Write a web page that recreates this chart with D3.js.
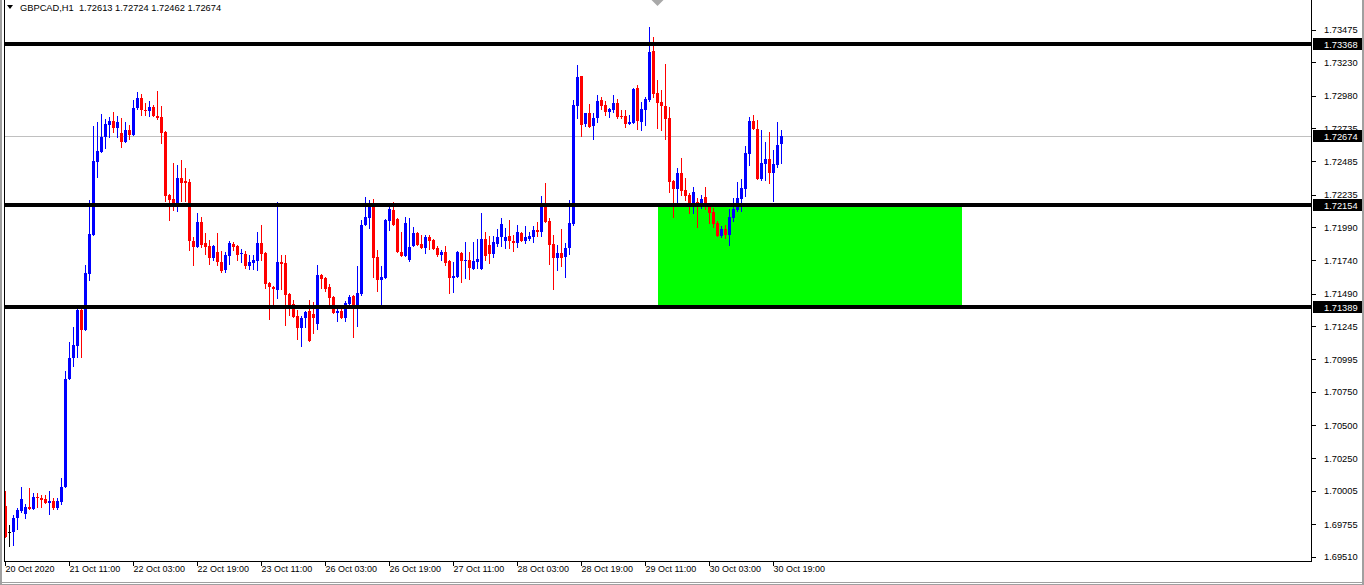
<!DOCTYPE html>
<html><head><meta charset="utf-8">
<script src="https://cdn.jsdelivr.net/npm/d3@7"></script>
<style>body{margin:0;background:#fff;overflow:hidden;} svg{display:block;}</style>
</head><body>
<svg id="c" width="1364" height="585"></svg>
<script>
const titleText = "GBPCAD,H1  1.72613 1.72724 1.72462 1.72674";
const opens = [
1.69892,1.69696,1.69696,1.69802,1.69854,1.69832,1.69884,1.69869,1.69960,1.69952,
1.69945,1.69914,1.69929,1.69877,1.69922,1.70035,1.70847,1.71005,1.71096,1.71367,
1.71216,1.71637,1.71931,1.72480,1.72555,1.72668,1.72759,1.72789,1.72736,1.72698,
1.72631,1.72721,1.72683,1.72886,1.72962,1.72871,1.72864,1.72894,1.72826,1.72819,
1.72706,1.72232,1.72202,1.72164,1.72360,1.72337,1.72330,1.71886,1.71841,1.72029,
1.71871,1.71848,1.71758,1.71803,1.71728,1.71668,1.71773,1.71863,1.71848,1.71788,
1.71788,1.71698,1.71720,1.71735,1.71871,1.71795,1.71570,1.71540,1.71517,1.71728,
1.71720,1.71487,1.71412,1.71321,1.71231,1.71306,1.71359,1.71336,1.71261,1.71630,
1.71607,1.71540,1.71464,1.71344,1.71359,1.71306,1.71412,1.71472,1.71397,1.71487,
1.72006,1.72059,1.72172,1.71765,1.71592,1.71607,1.72036,1.72119,1.72051,1.71803,
1.71773,1.71743,1.71848,1.71946,1.71863,1.71833,1.71916,1.71893,1.71833,1.71780,
1.71803,1.71735,1.71607,1.71615,1.71795,1.71735,1.71743,1.71675,1.71728,1.71675,
1.71901,1.71856,1.71788,1.71863,1.71916,1.71886,1.71923,1.71886,1.71871,1.71946,
1.71886,1.71901,1.71916,1.71968,1.71953,1.72149,1.72036,1.71863,1.71758,1.71795,
1.71765,1.71833,1.72014,1.72901,1.73127,1.72766,1.72849,1.72751,1.72811,1.72947,
1.72909,1.72856,1.72871,1.72924,1.72826,1.72826,1.72766,1.72774,1.73037,1.72781,
1.72871,1.72947,1.73315,1.72999,1.72932,1.72901,1.72811,1.72337,1.72277,1.72397,
1.72269,1.72232,1.72164,1.72179,1.72164,1.72217,1.72164,1.72104,1.72021,1.71923,
1.71976,1.71931,1.72059,1.72119,1.72202,1.72277,1.72540,1.72789,1.72728,1.72352,
1.72465,1.72503,1.72397,1.72458,1.72613];
const highs = [
1.70005,1.69749,1.69824,1.69877,1.70035,1.69907,1.70027,1.69990,1.69990,1.69975,
1.69975,1.70005,1.69952,1.69952,1.70103,1.70908,1.71126,1.71239,1.71389,1.71389,
1.71705,1.72194,1.72751,1.72781,1.72841,1.72804,1.72819,1.72856,1.72826,1.72811,
1.72781,1.72759,1.72947,1.73007,1.72992,1.72924,1.72939,1.72909,1.73014,1.72901,
1.72710,1.72236,1.72473,1.72458,1.72495,1.72435,1.72352,1.71916,1.72096,1.72066,
1.71946,1.71893,1.71856,1.71946,1.71810,1.71803,1.71886,1.71878,1.71856,1.71826,
1.71810,1.71780,1.71780,1.71953,1.72006,1.71800,1.71575,1.71545,1.72179,1.71780,
1.71780,1.71492,1.71442,1.71367,1.71321,1.71357,1.71442,1.71427,1.71705,1.71637,
1.71612,1.71562,1.71469,1.71397,1.71397,1.71434,1.71479,1.71477,1.71698,1.72044,
1.72217,1.72194,1.72202,1.71818,1.71698,1.72050,1.72149,1.72179,1.72056,1.71953,
1.72066,1.72059,1.71991,1.71950,1.71931,1.71931,1.71931,1.71898,1.71848,1.71818,
1.71848,1.71740,1.71728,1.71808,1.71803,1.71878,1.71803,1.71878,1.71901,1.72096,
1.71953,1.71923,1.71923,1.71976,1.72059,1.71984,1.72044,1.71931,1.72006,1.71950,
1.71999,1.71953,1.71999,1.72029,1.72224,1.72322,1.72059,1.71931,1.71856,1.71976,
1.71871,1.72194,1.72947,1.73210,1.73130,1.72852,1.72916,1.72849,1.72984,1.72969,
1.72939,1.72883,1.72984,1.72954,1.72871,1.72871,1.72834,1.73037,1.73059,1.72932,
1.72969,1.73496,1.73421,1.73097,1.73022,1.73217,1.72894,1.72342,1.72435,1.72510,
1.72360,1.72247,1.72292,1.72209,1.72232,1.72292,1.72169,1.72134,1.72036,1.71999,
1.72006,1.72126,1.72209,1.72330,1.72352,1.72600,1.72819,1.72834,1.72796,1.72721,
1.72631,1.72706,1.72570,1.72781,1.72724];
const lows = [
1.69651,1.69583,1.69591,1.69711,1.69839,1.69794,1.69862,1.69862,1.69877,1.69877,
1.69907,1.69824,1.69862,1.69862,1.69899,1.70027,1.70840,1.70938,1.71005,1.71005,
1.71210,1.71585,1.71925,1.72360,1.72550,1.72578,1.72661,1.72698,1.72661,1.72585,
1.72625,1.72646,1.72678,1.72871,1.72826,1.72826,1.72819,1.72819,1.72796,1.72616,
1.72179,1.72036,1.72111,1.72104,1.72179,1.72179,1.71810,1.71698,1.71833,1.71833,
1.71780,1.71705,1.71735,1.71698,1.71645,1.71645,1.71705,1.71810,1.71735,1.71720,
1.71675,1.71668,1.71668,1.71660,1.71735,1.71525,1.71291,1.71389,1.71449,1.71517,
1.71246,1.71321,1.71308,1.71141,1.71088,1.71231,1.71128,1.71186,1.71216,1.71525,
1.71502,1.71397,1.71336,1.71276,1.71299,1.71276,1.71404,1.71156,1.71239,1.71472,
1.72000,1.71976,1.71607,1.71502,1.71404,1.71600,1.71961,1.72000,1.71795,1.71768,
1.71768,1.71728,1.71843,1.71848,1.71828,1.71788,1.71818,1.71818,1.71765,1.71735,
1.71698,1.71487,1.71494,1.71610,1.71570,1.71600,1.71592,1.71668,1.71675,1.71670,
1.71735,1.71713,1.71758,1.71841,1.71841,1.71826,1.71826,1.71803,1.71833,1.71881,
1.71863,1.71886,1.71871,1.71916,1.71916,1.72024,1.71705,1.71517,1.71660,1.71690,
1.71607,1.71780,1.71999,1.72804,1.72668,1.72743,1.72738,1.72646,1.72774,1.72871,
1.72826,1.72811,1.72849,1.72804,1.72804,1.72736,1.72759,1.72766,1.72721,1.72713,
1.72751,1.72932,1.72962,1.72728,1.72713,1.72646,1.72247,1.72059,1.72164,1.72224,
1.72187,1.72089,1.72089,1.71984,1.72126,1.72119,1.72014,1.71984,1.71916,1.71908,
1.71901,1.71848,1.72029,1.72104,1.72104,1.72217,1.72450,1.72723,1.72345,1.72337,
1.72337,1.72315,1.72179,1.72435,1.72462];
const closes = [
1.69659,1.69696,1.69802,1.69862,1.69945,1.69884,1.69869,1.69960,1.69952,1.69937,
1.69914,1.69929,1.69877,1.69929,1.70035,1.70847,1.71005,1.71103,1.71367,1.71216,
1.71645,1.71938,1.72488,1.72563,1.72668,1.72766,1.72789,1.72736,1.72781,1.72631,
1.72721,1.72683,1.72886,1.72962,1.72871,1.72864,1.72894,1.72826,1.72811,1.72698,
1.72224,1.72194,1.72164,1.72360,1.72322,1.72322,1.71886,1.71841,1.72029,1.71856,
1.71841,1.71758,1.71848,1.71728,1.71660,1.71780,1.71871,1.71841,1.71780,1.71795,
1.71698,1.71728,1.71743,1.71871,1.71788,1.71562,1.71540,1.71525,1.71728,1.71713,
1.71479,1.71404,1.71314,1.71231,1.71306,1.71352,1.71133,1.71306,1.71630,1.71600,
1.71525,1.71457,1.71344,1.71359,1.71306,1.71419,1.71464,1.71397,1.71494,1.72006,
1.72066,1.72172,1.71758,1.71592,1.71615,1.72044,1.72126,1.72006,1.71803,1.71773,
1.72021,1.71841,1.71946,1.71856,1.71833,1.71916,1.71886,1.71826,1.71780,1.71803,
1.71720,1.71607,1.71622,1.71803,1.71735,1.71743,1.71683,1.71735,1.71750,1.71901,
1.71773,1.71788,1.71878,1.71916,1.72014,1.71916,1.71886,1.71871,1.71953,1.71886,
1.71916,1.71923,1.71968,1.71953,1.72149,1.72029,1.71856,1.71758,1.71795,1.71758,
1.71833,1.72021,1.72909,1.73120,1.72759,1.72849,1.72743,1.72811,1.72939,1.72901,
1.72856,1.72879,1.72924,1.72819,1.72819,1.72766,1.72781,1.73029,1.72789,1.72879,
1.72954,1.73308,1.72992,1.72924,1.72901,1.72804,1.72330,1.72277,1.72397,1.72262,
1.72224,1.72164,1.72254,1.72164,1.72202,1.72164,1.72096,1.72014,1.71923,1.71976,
1.71931,1.72066,1.72126,1.72209,1.72284,1.72548,1.72789,1.72728,1.72352,1.72473,
1.72503,1.72397,1.72465,1.72608,1.72674];

const timeLabels = ["20 Oct 2020","21 Oct 11:00","22 Oct 03:00","22 Oct 19:00","23 Oct 11:00","26 Oct 03:00","26 Oct 19:00","27 Oct 11:00","28 Oct 03:00","28 Oct 19:00","29 Oct 11:00","30 Oct 03:00","30 Oct 19:00"];
const timeLabelBars = [0,16,32,48,64,80,96,112,128,144,160,176,192];
const priceTicks = [1.73475,1.73230,1.72980,1.72735,1.72485,1.72235,1.71990,1.71740,1.71490,1.71245,1.70995,1.70750,1.70500,1.70250,1.70005,1.69755,1.69510];
const levelPrices = [1.73368,1.72154,1.71389];
const bidPrice = 1.72674;
const zoneBars = [163,239];
const zonePrices = [1.72154,1.71389];
const shiftMarkerBar = 163;

const FONT = "'Liberation Sans', Arial, sans-serif";
const W = 1364, H = 585;
const plotLeft = 4, plotRight = 1311, plotBottom = 561;

const svg = d3.select("#c");
svg.append("rect").attr("width",W).attr("height",H).attr("fill","#fff");

const y = d3.scaleLinear().domain([1.69478, 1.73699]).range([plotBottom, 0]);
const x = d3.scaleLinear().domain([0, opens.length-1]).range([5.5, 781.5]);

const g = svg.append("g").attr("shape-rendering","crispEdges");

// zone rectangle
g.append("rect")
  .attr("x", x(zoneBars[0])).attr("width", x(zoneBars[1]) - x(zoneBars[0]))
  .attr("y", y(zonePrices[0])).attr("height", y(zonePrices[1]) - y(zonePrices[0]))
  .attr("fill","#00FF00");

// bid line
g.append("line").attr("x1",plotLeft).attr("x2",plotRight)
  .attr("y1",Math.round(y(bidPrice))+0.5).attr("y2",Math.round(y(bidPrice))+0.5)
  .attr("stroke","#C0C0C0").attr("stroke-width",1);

// candles
const data = opens.map((o,i)=>({i,o,h:highs[i],l:lows[i],c:closes[i]}));
const col = d => d.c > d.o ? "#0000FF" : (d.c < d.o ? "#FF0000" : "#000000");
const cg = g.append("g");
cg.selectAll("line.w").data(data).join("line").attr("class","w")
  .attr("x1", d => Math.floor(x(d.i))+0.5).attr("x2", d => Math.floor(x(d.i))+0.5)
  .attr("y1", d => y(d.h)).attr("y2", d => y(d.l))
  .attr("stroke", col).attr("stroke-width",1);
cg.selectAll("rect.b").data(data).join("rect").attr("class","b")
  .attr("x", d => Math.floor(x(d.i))-1).attr("width",3)
  .attr("y", d => y(Math.max(d.o,d.c)))
  .attr("height", d => Math.max(1, y(Math.min(d.o,d.c)) - y(Math.max(d.o,d.c))))
  .attr("fill", col);

// level lines
g.selectAll("rect.lvl").data(levelPrices).join("rect").attr("class","lvl")
  .attr("x", plotLeft+1).attr("width", plotRight - plotLeft - 1)
  .attr("y", d => Math.round(y(d)) - 2).attr("height", 4).attr("fill","#000");

// frame
g.append("rect").attr("x",0).attr("y",0).attr("width",2).attr("height",H).attr("fill","#A0A0A0");
g.append("rect").attr("x",plotLeft).attr("y",0).attr("width",1).attr("height",plotBottom).attr("fill","#000");
g.append("rect").attr("x",plotLeft).attr("y",plotBottom).attr("width",plotRight-plotLeft+1).attr("height",1).attr("fill","#000");
g.append("rect").attr("x",plotRight).attr("y",0).attr("width",1).attr("height",plotBottom+1).attr("fill","#000");
g.append("rect").attr("x",W-2).attr("y",0).attr("width",2).attr("height",H).attr("fill","#A0A0A0");
g.append("rect").attr("x",0).attr("y",H-3).attr("width",W).attr("height",1).attr("fill","#A0A0A0");
g.append("rect").attr("x",0).attr("y",H-1).attr("width",W).attr("height",1).attr("fill","#A0A0A0");

// chart shift marker
svg.append("path")
  .attr("d", `M${x(shiftMarkerBar)-6},0 L${x(shiftMarkerBar)+6},0 L${x(shiftMarkerBar)},6 Z`)
  .attr("fill","#A9A9A9");

// y axis
const yAxis = d3.axisRight(y).tickValues(priceTicks).tickSize(4).tickPadding(9)
  .tickFormat(d3.format(".5f"));
const ya = svg.append("g").attr("transform",`translate(${plotRight+0.5},0)`).call(yAxis);
ya.select(".domain").remove();
ya.selectAll("line").attr("stroke","#000").attr("shape-rendering","crispEdges");
ya.selectAll("text").attr("font-family",FONT).attr("font-size","9.3px").attr("fill","#000").attr("x",12.5);

// level label boxes
const boxPrices = levelPrices.concat([bidPrice]);
const lb = svg.append("g");
lb.selectAll("rect").data(boxPrices).join("rect")
  .attr("x", plotRight+2).attr("width", 49)
  .attr("y", d => Math.round(y(d)) - 6).attr("height", 12)
  .attr("fill","#000").attr("shape-rendering","crispEdges");
lb.selectAll("text").data(boxPrices).join("text")
  .attr("x", plotRight+13).attr("y", d => Math.round(y(d)) + 3.5)
  .attr("font-family",FONT).attr("font-size","9.3px").attr("fill","#fff")
  .text(d => d3.format(".5f")(d));

// x axis
const xAxis = d3.axisBottom(x).tickValues(timeLabelBars).tickSize(4).tickPadding(1)
  .tickFormat((d,i) => timeLabels[i]);
const xa = svg.append("g").attr("transform",`translate(-0.5,${plotBottom+0.5})`).call(xAxis);
xa.select(".domain").remove();
xa.selectAll("line").attr("stroke","#000").attr("shape-rendering","crispEdges");
xa.selectAll("text").attr("font-family",FONT).attr("font-size","9px").attr("fill","#000")
  .attr("text-anchor","start").attr("x",0).attr("dy","0.71em").attr("y",4);

// title
svg.append("path").attr("d","M7,5 L13,5 L10,9 Z").attr("fill","#000");
svg.append("text").attr("x",20).attr("y",11).attr("font-family",FONT).attr("font-size","9.3px")
  .attr("fill","#000").attr("xml:space","preserve").style("white-space","pre").text(titleText);
</script>
</body></html>
